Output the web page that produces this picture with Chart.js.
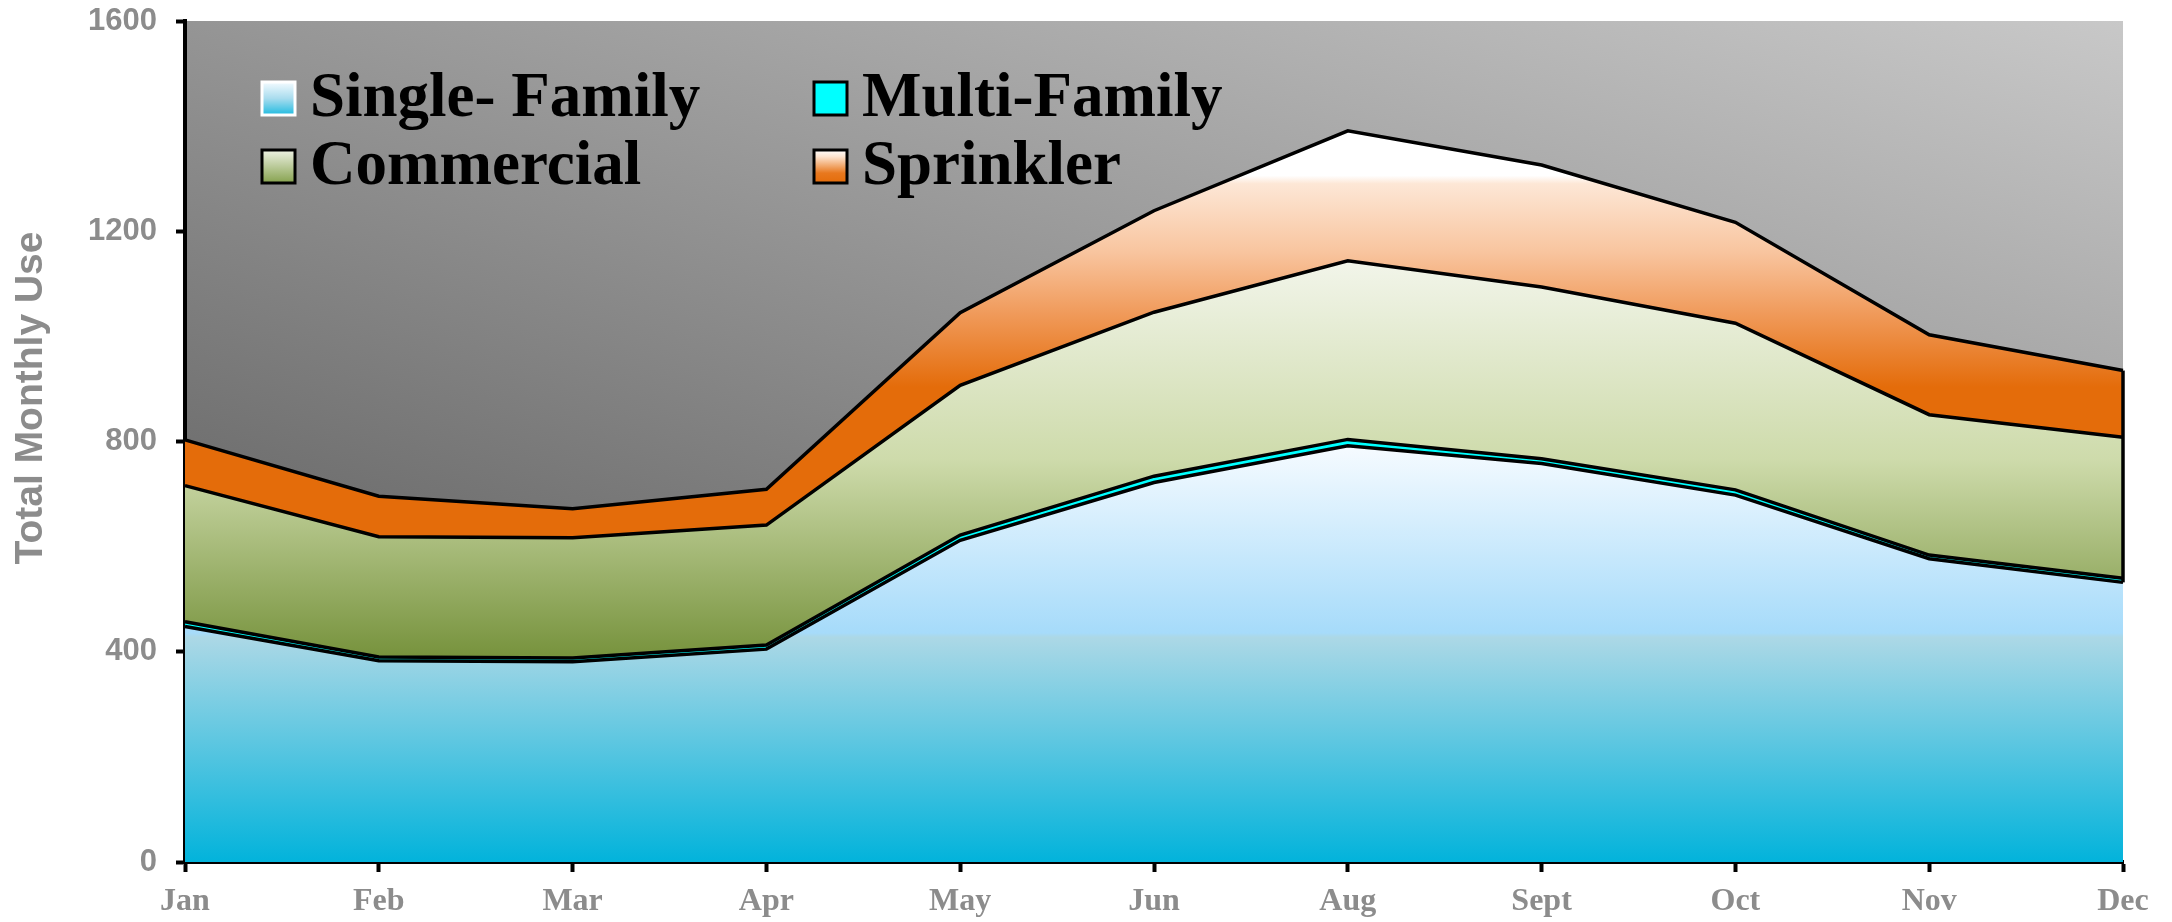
<!DOCTYPE html>
<html>
<head>
<meta charset="utf-8">
<title>Total Monthly Use</title>
<script src="https://cdn.jsdelivr.net/npm/chart.js@4.4.1/dist/chart.umd.min.js"></script>
<style>
  html, body { margin: 0; padding: 0; background: #fff; }
  #wrap { width: 2172px; height: 922px; }
</style>
</head>
<body>
<div id="wrap"><canvas id="uso" width="2172" height="922"></canvas></div>
<script>
// valores (empilhados: cada série é a espessura da camada)
const months = ['Jan', 'Feb', 'Mar', 'Apr', 'May', 'Jun', 'Aug', 'Sept', 'Oct', 'Nov', 'Dec'];
const seriesNames = ['Single- Family', 'Multi-Family', 'Commercial', 'Sprinkler'];
const singleFamily = [448, 383, 381, 405, 612, 722, 792, 758, 698, 577, 532];
const multiFamily = [9, 7, 7, 8, 10, 12, 12, 9, 10, 7, 8];
const commercial = [259, 229, 229, 228, 285, 312, 340, 327, 317, 267, 268];
const sprinkler = [87, 77, 55, 68, 138, 193, 247, 232, 192, 152, 127];
const yTicks = [0, 400, 800, 1200, 1600];
const yTitle = 'Total Monthly Use';

const GRAY = '#8c8c8c';

// soma acumulada até a camada n (inclusive)
const layers = [singleFamily, multiFamily, commercial, sprinkler];
function cumul(n) {
  return months.map((_, i) => layers.slice(0, n + 1).reduce((s, arr) => s + arr[i], 0));
}

// degradê vertical entre o topo da camada e a base dela
function layerGradient(n, stops) {
  return (c) => {
    const chart = c.chart;
    const { ctx, chartArea, scales } = chart;
    if (!chartArea) return null;
    const top = cumul(n);
    const bottom = n === 0 ? months.map(() => 0) : cumul(n - 1);
    const y0 = scales.y.getPixelForValue(Math.max(...top));
    const y1 = scales.y.getPixelForValue(Math.min(...bottom));
    const g = ctx.createLinearGradient(0, y0, 0, y1);
    stops.forEach(([p, col]) => g.addColorStop(p, col));
    return g;
  };
}

const stopsSingle = [[0, '#f6fbff'], [0.45, '#a6dbfa'], [0.46, '#acd8e6'], [1, '#02b3db']];
const stopsCommercial = [[0, '#f2f5ea'], [0.5, '#cedbab'], [1, '#76923c']];
const stopsSprinkler = [[0, '#ffffff'], [0.11, '#ffffff'], [0.13, '#fde7d6'], [0.3, '#f8c49e'],
  [0.45, '#f09a5a'], [0.63, '#e46c0a'], [1, '#e46c0a']];

// amostras da legenda
const swatches = [
  { border: '#ffffff', stops: [[0, '#f4fbff'], [0.5, '#a8dcee'], [1, '#20bbe0']] },
  { border: '#000000', stops: [[0, '#00ffff'], [1, '#00ffff']] },
  { border: '#000000', stops: [[0, '#eef2e4'], [1, '#86a24e']] },
  { border: '#000000', stops: [[0, '#ffffff'], [0.2, '#fde4d0'], [0.7, '#e8781e'], [1, '#e46c0a']] }
];

// fundo cinza em degradê na área do gráfico
const fundo = {
  id: 'fundo',
  beforeDraw(chart) {
    const { ctx, chartArea: a } = chart;
    const g = ctx.createLinearGradient(a.left, a.bottom, a.left + 411, a.bottom - 1317);
    g.addColorStop(0, '#4e4e4e');
    g.addColorStop(1, '#c8c8c8');
    ctx.save();
    ctx.fillStyle = g;
    ctx.fillRect(a.left, a.top, a.right - a.left, a.bottom - a.top);
    ctx.restore();
  }
};

// borda vertical no fim das camadas (como no original)
const bordaFinal = {
  id: 'bordaFinal',
  afterDatasetsDraw(chart) {
    const { ctx, scales } = chart;
    const last = months.length - 1;
    const x = scales.x.getPixelForValue(last);
    ctx.save();
    ctx.strokeStyle = '#000';
    ctx.lineWidth = 3.5;
    ctx.beginPath();
    ctx.moveTo(x, scales.y.getPixelForValue(cumul(3)[last]));
    ctx.lineTo(x, scales.y.getPixelForValue(cumul(0)[last]));
    ctx.stroke();
    ctx.restore();
  }
};

// legenda em duas colunas dentro da área do gráfico
const legenda = {
  id: 'legenda',
  afterDatasetsDraw(chart) {
    const { ctx, chartArea: a } = chart;
    const box = 33;
    ctx.save();
    ctx.font = 'bold 63px "Liberation Serif", "Times New Roman", serif';
    ctx.textBaseline = 'alphabetic';
    ctx.textAlign = 'left';
    chart.data.datasets.forEach((ds, i) => {
      const bx = a.left + 77 + (i % 2) * 552;
      const by = a.top + 61 + Math.floor(i / 2) * 68;
      const sw = swatches[i];
      const g = ctx.createLinearGradient(0, by, 0, by + box);
      sw.stops.forEach(([p, col]) => g.addColorStop(p, col));
      ctx.fillStyle = g;
      ctx.fillRect(bx, by, box, box);
      ctx.strokeStyle = sw.border;
      ctx.lineWidth = 3;
      ctx.strokeRect(bx, by, box, box);
      ctx.fillStyle = '#000';
      ctx.fillText(ds.label, bx + 48, by + box + 1);
    });
    ctx.restore();
  }
};

// título do eixo Y (fica um pouco acima do centro no original)
const tituloY = {
  id: 'tituloY',
  afterDraw(chart) {
    const { ctx } = chart;
    ctx.save();
    ctx.translate(31, 398);
    ctx.rotate(-Math.PI / 2);
    ctx.font = 'bold 39px "Liberation Sans", Arial, sans-serif';
    ctx.fillStyle = GRAY;
    ctx.textAlign = 'center';
    ctx.textBaseline = 'middle';
    ctx.fillText(yTitle, 0, 0);
    ctx.restore();
  }
};

const linha = { borderColor: '#000', borderWidth: 3.5, pointRadius: 0, tension: 0 };

new Chart(document.getElementById('uso'), {
  type: 'line',
  data: {
    labels: months,
    datasets: [
      { ...linha, label: seriesNames[0], data: singleFamily, fill: 'origin', backgroundColor: layerGradient(0, stopsSingle) },
      { ...linha, label: seriesNames[1], data: multiFamily, fill: '-1', backgroundColor: '#00ffff' },
      { ...linha, label: seriesNames[2], data: commercial, fill: '-1', backgroundColor: layerGradient(2, stopsCommercial) },
      { ...linha, label: seriesNames[3], data: sprinkler, fill: '-1', backgroundColor: layerGradient(3, stopsSprinkler) }
    ]
  },
  options: {
    responsive: false,
    devicePixelRatio: 1,
    animation: false,
    layout: { padding: { top: 21, right: 49, left: 0, bottom: 0 } },
    plugins: { legend: { display: false }, tooltip: { enabled: false } },
    scales: {
      x: {
        z: 1,
        grid: { drawOnChartArea: false, drawTicks: true, tickLength: 10, tickColor: '#000', tickWidth: 4 },
        border: { display: true, color: '#000', width: 4 },
        ticks: {
          color: GRAY, autoSkip: false, maxRotation: 0, padding: 11,
          font: { family: '"Liberation Serif", "Times New Roman", serif', weight: 'bold', size: 32 }
        },
        afterFit: (s) => { s.height = 60; }
      },
      y: {
        z: 1,
        stacked: true,
        min: yTicks[0],
        max: yTicks[yTicks.length - 1],
        afterBuildTicks: (s) => { s.ticks = yTicks.map((v) => ({ value: v })); },
        grid: { drawOnChartArea: false, drawTicks: true, tickLength: 9, tickColor: '#000', tickWidth: 4 },
        border: { display: true, color: '#000', width: 4 },
        ticks: {
          color: GRAY, padding: 19,
          callback: (v) => String(v),
          font: { family: '"Liberation Sans", Arial, sans-serif', weight: 'bold', size: 31 }
        },
        afterFit: (s) => { s.width = 185; s.paddingTop = 0; s.paddingBottom = 0; }
      }
    }
  },
  plugins: [fundo, bordaFinal, legenda, tituloY]
});
</script>
</body>
</html>
